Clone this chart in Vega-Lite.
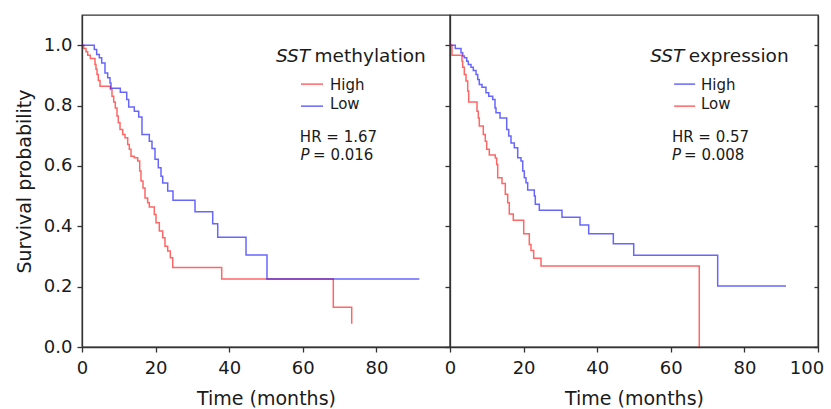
{
  "$schema": "https://vega.github.io/schema/vega-lite/v6.json",
  "padding": {"left": 14, "top": 14, "right": 0, "bottom": 0},
  "background": "white",
  "bounds": "flush",
  "config": {
    "view": {"stroke": "#333333", "strokeWidth": 1.3},
    "font": "DejaVu Sans",
    "axis": {
      "domainColor": "#333333", "domainWidth": 1.3, "tickColor": "#333333", "tickWidth": 1.3,
      "labelColor": "#1a1a1a", "titleColor": "#1a1a1a", "labelFont": "DejaVu Sans", "titleFont": "DejaVu Sans",
      "labelFontSize": 18, "titleFontSize": 19, "titleFontWeight": "normal", "grid": false, "tickSize": 5,
      "labelFlush": false, "labelOverlap": false
    },
    "text": {"font": "DejaVu Sans", "fontSize": 15, "align": "left", "baseline": "alphabetic", "color": "#1a1a1a"}
  },
  "datasets": {
    "km": [
      {"panel": "methylation", "group": "High", "t": 0, "s": 1.0},
      {"panel": "methylation", "group": "High", "t": 0.46, "s": 0.989},
      {"panel": "methylation", "group": "High", "t": 1.09, "s": 0.978},
      {"panel": "methylation", "group": "High", "t": 1.55, "s": 0.967},
      {"panel": "methylation", "group": "High", "t": 2.26, "s": 0.956},
      {"panel": "methylation", "group": "High", "t": 3.53, "s": 0.936},
      {"panel": "methylation", "group": "High", "t": 3.8, "s": 0.92},
      {"panel": "methylation", "group": "High", "t": 4.08, "s": 0.903},
      {"panel": "methylation", "group": "High", "t": 4.43, "s": 0.883},
      {"panel": "methylation", "group": "High", "t": 4.89, "s": 0.864},
      {"panel": "methylation", "group": "High", "t": 7.69, "s": 0.853},
      {"panel": "methylation", "group": "High", "t": 8.15, "s": 0.831},
      {"panel": "methylation", "group": "High", "t": 8.61, "s": 0.812},
      {"panel": "methylation", "group": "High", "t": 9.05, "s": 0.792},
      {"panel": "methylation", "group": "High", "t": 9.51, "s": 0.765},
      {"panel": "methylation", "group": "High", "t": 9.86, "s": 0.743},
      {"panel": "methylation", "group": "High", "t": 10.33, "s": 0.721},
      {"panel": "methylation", "group": "High", "t": 11.06, "s": 0.704},
      {"panel": "methylation", "group": "High", "t": 11.68, "s": 0.693},
      {"panel": "methylation", "group": "High", "t": 12.42, "s": 0.671},
      {"panel": "methylation", "group": "High", "t": 12.85, "s": 0.655},
      {"panel": "methylation", "group": "High", "t": 13.32, "s": 0.632},
      {"panel": "methylation", "group": "High", "t": 14.21, "s": 0.627},
      {"panel": "methylation", "group": "High", "t": 15.14, "s": 0.616},
      {"panel": "methylation", "group": "High", "t": 15.68, "s": 0.583},
      {"panel": "methylation", "group": "High", "t": 16.03, "s": 0.55},
      {"panel": "methylation", "group": "High", "t": 16.58, "s": 0.527},
      {"panel": "methylation", "group": "High", "t": 17.12, "s": 0.494},
      {"panel": "methylation", "group": "High", "t": 17.85, "s": 0.478},
      {"panel": "methylation", "group": "High", "t": 18.29, "s": 0.464},
      {"panel": "methylation", "group": "High", "t": 19.65, "s": 0.439},
      {"panel": "methylation", "group": "High", "t": 20.11, "s": 0.412},
      {"panel": "methylation", "group": "High", "t": 21.01, "s": 0.384},
      {"panel": "methylation", "group": "High", "t": 21.93, "s": 0.362},
      {"panel": "methylation", "group": "High", "t": 22.55, "s": 0.334},
      {"panel": "methylation", "group": "High", "t": 23.29, "s": 0.318},
      {"panel": "methylation", "group": "High", "t": 23.99, "s": 0.296},
      {"panel": "methylation", "group": "High", "t": 24.65, "s": 0.263},
      {"panel": "methylation", "group": "High", "t": 37.96, "s": 0.225},
      {"panel": "methylation", "group": "High", "t": 68.29, "s": 0.132},
      {"panel": "methylation", "group": "High", "t": 73.29, "s": 0.077},
      {"panel": "methylation", "group": "Low", "t": 0, "s": 1.0},
      {"panel": "methylation", "group": "Low", "t": 3.34, "s": 0.986},
      {"panel": "methylation", "group": "Low", "t": 3.99, "s": 0.969},
      {"panel": "methylation", "group": "Low", "t": 4.7, "s": 0.958},
      {"panel": "methylation", "group": "Low", "t": 5.35, "s": 0.941},
      {"panel": "methylation", "group": "Low", "t": 6.25, "s": 0.908},
      {"panel": "methylation", "group": "Low", "t": 6.98, "s": 0.892},
      {"panel": "methylation", "group": "Low", "t": 7.61, "s": 0.875},
      {"panel": "methylation", "group": "Low", "t": 7.88, "s": 0.857},
      {"panel": "methylation", "group": "Low", "t": 10.41, "s": 0.844},
      {"panel": "methylation", "group": "Low", "t": 12.15, "s": 0.82},
      {"panel": "methylation", "group": "Low", "t": 12.69, "s": 0.795},
      {"panel": "methylation", "group": "Low", "t": 14.21, "s": 0.781},
      {"panel": "methylation", "group": "Low", "t": 15.41, "s": 0.762},
      {"panel": "methylation", "group": "Low", "t": 16.3, "s": 0.704},
      {"panel": "methylation", "group": "Low", "t": 18.29, "s": 0.682},
      {"panel": "methylation", "group": "Low", "t": 19.02, "s": 0.658},
      {"panel": "methylation", "group": "Low", "t": 19.84, "s": 0.622},
      {"panel": "methylation", "group": "Low", "t": 20.73, "s": 0.594},
      {"panel": "methylation", "group": "Low", "t": 21.47, "s": 0.566},
      {"panel": "methylation", "group": "Low", "t": 21.93, "s": 0.543},
      {"panel": "methylation", "group": "Low", "t": 23.29, "s": 0.517},
      {"panel": "methylation", "group": "Low", "t": 24.73, "s": 0.486},
      {"panel": "methylation", "group": "Low", "t": 30.71, "s": 0.448},
      {"panel": "methylation", "group": "Low", "t": 35.52, "s": 0.408},
      {"panel": "methylation", "group": "Low", "t": 36.88, "s": 0.364},
      {"panel": "methylation", "group": "Low", "t": 44.57, "s": 0.305},
      {"panel": "methylation", "group": "Low", "t": 50.27, "s": 0.225},
      {"panel": "methylation", "group": "Low", "t": 91.66, "s": 0.225},
      {"panel": "expression", "group": "High", "t": 0, "s": 1.0},
      {"panel": "expression", "group": "High", "t": 1.44, "s": 0.989},
      {"panel": "expression", "group": "High", "t": 2.99, "s": 0.975},
      {"panel": "expression", "group": "High", "t": 3.45, "s": 0.964},
      {"panel": "expression", "group": "High", "t": 3.89, "s": 0.958},
      {"panel": "expression", "group": "High", "t": 4.54, "s": 0.947},
      {"panel": "expression", "group": "High", "t": 4.97, "s": 0.936},
      {"panel": "expression", "group": "High", "t": 5.71, "s": 0.927},
      {"panel": "expression", "group": "High", "t": 6.33, "s": 0.916},
      {"panel": "expression", "group": "High", "t": 7.07, "s": 0.903},
      {"panel": "expression", "group": "High", "t": 7.53, "s": 0.886},
      {"panel": "expression", "group": "High", "t": 7.96, "s": 0.87},
      {"panel": "expression", "group": "High", "t": 8.7, "s": 0.861},
      {"panel": "expression", "group": "High", "t": 9.78, "s": 0.842},
      {"panel": "expression", "group": "High", "t": 10.52, "s": 0.831},
      {"panel": "expression", "group": "High", "t": 11.6, "s": 0.82},
      {"panel": "expression", "group": "High", "t": 12.23, "s": 0.792},
      {"panel": "expression", "group": "High", "t": 12.5, "s": 0.776},
      {"panel": "expression", "group": "High", "t": 13.59, "s": 0.759},
      {"panel": "expression", "group": "High", "t": 15.41, "s": 0.721},
      {"panel": "expression", "group": "High", "t": 15.95, "s": 0.699},
      {"panel": "expression", "group": "High", "t": 16.58, "s": 0.676},
      {"panel": "expression", "group": "High", "t": 17.47, "s": 0.66},
      {"panel": "expression", "group": "High", "t": 18.4, "s": 0.627},
      {"panel": "expression", "group": "High", "t": 19.29, "s": 0.616},
      {"panel": "expression", "group": "High", "t": 19.76, "s": 0.583},
      {"panel": "expression", "group": "High", "t": 20.19, "s": 0.561},
      {"panel": "expression", "group": "High", "t": 20.65, "s": 0.544},
      {"panel": "expression", "group": "High", "t": 21.11, "s": 0.52},
      {"panel": "expression", "group": "High", "t": 22.91, "s": 0.5},
      {"panel": "expression", "group": "High", "t": 23.18, "s": 0.473},
      {"panel": "expression", "group": "High", "t": 24.27, "s": 0.453},
      {"panel": "expression", "group": "High", "t": 30.43, "s": 0.43},
      {"panel": "expression", "group": "High", "t": 35.33, "s": 0.404},
      {"panel": "expression", "group": "High", "t": 37.69, "s": 0.375},
      {"panel": "expression", "group": "High", "t": 44.38, "s": 0.342},
      {"panel": "expression", "group": "High", "t": 49.92, "s": 0.304},
      {"panel": "expression", "group": "High", "t": 72.74, "s": 0.202},
      {"panel": "expression", "group": "High", "t": 91.3, "s": 0.202},
      {"panel": "expression", "group": "Low", "t": 0, "s": 1.0},
      {"panel": "expression", "group": "Low", "t": 0.54, "s": 0.967},
      {"panel": "expression", "group": "Low", "t": 3.26, "s": 0.947},
      {"panel": "expression", "group": "Low", "t": 3.45, "s": 0.927},
      {"panel": "expression", "group": "Low", "t": 3.89, "s": 0.903},
      {"panel": "expression", "group": "Low", "t": 4.35, "s": 0.881},
      {"panel": "expression", "group": "Low", "t": 4.81, "s": 0.848},
      {"panel": "expression", "group": "Low", "t": 5.08, "s": 0.812},
      {"panel": "expression", "group": "Low", "t": 7.34, "s": 0.781},
      {"panel": "expression", "group": "Low", "t": 7.69, "s": 0.759},
      {"panel": "expression", "group": "Low", "t": 7.96, "s": 0.732},
      {"panel": "expression", "group": "Low", "t": 9.05, "s": 0.704},
      {"panel": "expression", "group": "Low", "t": 9.59, "s": 0.682},
      {"panel": "expression", "group": "Low", "t": 9.97, "s": 0.655},
      {"panel": "expression", "group": "Low", "t": 10.68, "s": 0.636},
      {"panel": "expression", "group": "Low", "t": 12.31, "s": 0.626},
      {"panel": "expression", "group": "Low", "t": 12.69, "s": 0.605},
      {"panel": "expression", "group": "Low", "t": 12.96, "s": 0.561},
      {"panel": "expression", "group": "Low", "t": 14.13, "s": 0.542},
      {"panel": "expression", "group": "Low", "t": 15.03, "s": 0.506},
      {"panel": "expression", "group": "Low", "t": 15.68, "s": 0.478},
      {"panel": "expression", "group": "Low", "t": 16.11, "s": 0.441},
      {"panel": "expression", "group": "Low", "t": 17.2, "s": 0.42},
      {"panel": "expression", "group": "Low", "t": 20.03, "s": 0.375},
      {"panel": "expression", "group": "Low", "t": 21.55, "s": 0.34},
      {"panel": "expression", "group": "Low", "t": 22.01, "s": 0.32},
      {"panel": "expression", "group": "Low", "t": 22.74, "s": 0.294},
      {"panel": "expression", "group": "Low", "t": 24.73, "s": 0.268},
      {"panel": "expression", "group": "Low", "t": 67.74, "s": 0.0}
    ],
    "one": [{}]
  },
  "spacing": 0,
  "resolve": {"scale": {"color": "independent"}},
  "hconcat": [
    {
      "width": 368,
      "height": 332,
      "layer": [
        {
          "data": {"name": "km"},
          "transform": [{"filter": "datum.panel == 'methylation'"}],
          "mark": {"type": "line", "interpolate": "step-after", "strokeWidth": 1.5, "opacity": 0.6},
          "encoding": {
            "x": {"field": "t", "type": "quantitative", "scale": {"domain": [0, 100], "nice": false},
                  "axis": {"title": "Time (months)", "values": [0, 20, 40, 60, 80], "labelPadding": 7, "titlePadding": 12}},
            "y": {"field": "s", "type": "quantitative", "scale": {"domain": [0, 1.1], "nice": false},
                  "axis": {"title": "Survival probability", "values": [0, 0.2, 0.4, 0.6, 0.8, 1.0], "format": ".1f", "labelPadding": 5, "titlePadding": 9}},
            "color": {"field": "group", "type": "nominal", "scale": {"domain": ["High", "Low"], "range": ["#ff0000", "#0000ff"]}, "legend": null}
          }
        },
        {
          "data": {"name": "one"},
          "mark": {"type": "rule", "strokeWidth": 1.5, "opacity": 0.6},
          "encoding": {"x": {"datum": 59.5}, "x2": {"datum": 65.5}, "y": {"datum": 0.871}, "color": {"datum": "High"}}
        },
        {
          "data": {"name": "one"},
          "mark": {"type": "rule", "strokeWidth": 1.5, "opacity": 0.6},
          "encoding": {"x": {"datum": 59.5}, "x2": {"datum": 65.5}, "y": {"datum": 0.798}, "color": {"datum": "Low"}}
        },
        {"data": {"name": "one"}, "mark": {"type": "text", "text": "High"}, "encoding": {"x": {"datum": 67.4}, "y": {"datum": 0.85}}},
        {"data": {"name": "one"}, "mark": {"type": "text", "text": "Low"}, "encoding": {"x": {"datum": 67.4}, "y": {"datum": 0.787}}},
        {"data": {"name": "one"}, "mark": {"type": "text", "text": "SST", "fontStyle": "italic", "fontSize": 18.5, "align": "right"}, "encoding": {"x": {"datum": 62.0}, "y": {"datum": 0.945}}},
        {"data": {"name": "one"}, "mark": {"type": "text", "text": "methylation", "fontSize": 18.5}, "encoding": {"x": {"datum": 63.2}, "y": {"datum": 0.945}}},
        {"data": {"name": "one"}, "mark": {"type": "text", "text": "HR = 1.67"}, "encoding": {"x": {"datum": 59.2}, "y": {"datum": 0.679}}},
        {"data": {"name": "one"}, "mark": {"type": "text", "text": "P", "fontStyle": "italic"}, "encoding": {"x": {"datum": 59.4}, "y": {"datum": 0.618}}},
        {"data": {"name": "one"}, "mark": {"type": "text", "text": "= 0.016"}, "encoding": {"x": {"datum": 62.8}, "y": {"datum": 0.618}}}
      ]
    },
    {
      "width": 368,
      "height": 332,
      "resolve": {"axis": {"y": "independent"}},
      "layer": [
        {
          "data": {"name": "km"},
          "transform": [{"filter": "datum.panel == 'expression'"}],
          "mark": {"type": "line", "interpolate": "step-after", "strokeWidth": 1.5, "opacity": 0.6},
          "encoding": {
            "x": {"field": "t", "type": "quantitative", "scale": {"domain": [0, 100], "nice": false},
                  "axis": {"title": "Time (months)", "values": [0, 20, 40, 60, 80, 100], "labelPadding": 7, "titlePadding": 12, "labelFlush": true, "labelFlushOffset": 5.7}},
            "y": {"field": "s", "type": "quantitative", "scale": {"domain": [0, 1.1], "nice": false},
                  "axis": {"title": null, "labels": false, "values": [0, 0.2, 0.4, 0.6, 0.8, 1.0]}},
            "color": {"field": "group", "type": "nominal", "scale": {"domain": ["High", "Low"], "range": ["#0000ff", "#ff0000"]}, "legend": null}
          }
        },
        {
          "data": {"name": "one"},
          "mark": {"type": "rule", "strokeWidth": 1.5, "opacity": 0.6},
          "encoding": {"x": {"datum": 60.9}, "x2": {"datum": 66.6},
                       "y": {"datum": 0.871, "type": "quantitative", "axis": {"orient": "right", "title": null, "labels": false, "tickSize": -4, "values": [0, 0.2, 0.4, 0.6, 0.8, 1.0]}},
                       "color": {"datum": "High"}}
        },
        {
          "data": {"name": "one"},
          "mark": {"type": "rule", "strokeWidth": 1.5, "opacity": 0.6},
          "encoding": {"x": {"datum": 60.9}, "x2": {"datum": 66.6}, "y": {"datum": 0.798, "type": "quantitative", "axis": null}, "color": {"datum": "Low"}}
        },
        {"data": {"name": "one"}, "mark": {"type": "text", "text": "High"}, "encoding": {"x": {"datum": 68.2}, "y": {"datum": 0.85, "type": "quantitative", "axis": null}}},
        {"data": {"name": "one"}, "mark": {"type": "text", "text": "Low"}, "encoding": {"x": {"datum": 68.2}, "y": {"datum": 0.787, "type": "quantitative", "axis": null}}},
        {"data": {"name": "one"}, "mark": {"type": "text", "text": "SST", "fontStyle": "italic", "fontSize": 18.5, "align": "right"}, "encoding": {"x": {"datum": 63.7}, "y": {"datum": 0.945, "type": "quantitative", "axis": null}}},
        {"data": {"name": "one"}, "mark": {"type": "text", "text": "expression", "fontSize": 18.5}, "encoding": {"x": {"datum": 64.9}, "y": {"datum": 0.945, "type": "quantitative", "axis": null}}},
        {"data": {"name": "one"}, "mark": {"type": "text", "text": "HR = 0.57"}, "encoding": {"x": {"datum": 60.3}, "y": {"datum": 0.679, "type": "quantitative", "axis": null}}},
        {"data": {"name": "one"}, "mark": {"type": "text", "text": "P", "fontStyle": "italic"}, "encoding": {"x": {"datum": 60.3}, "y": {"datum": 0.618, "type": "quantitative", "axis": null}}},
        {"data": {"name": "one"}, "mark": {"type": "text", "text": "= 0.008"}, "encoding": {"x": {"datum": 63.6}, "y": {"datum": 0.618, "type": "quantitative", "axis": null}}}
      ]
    }
  ]
}
